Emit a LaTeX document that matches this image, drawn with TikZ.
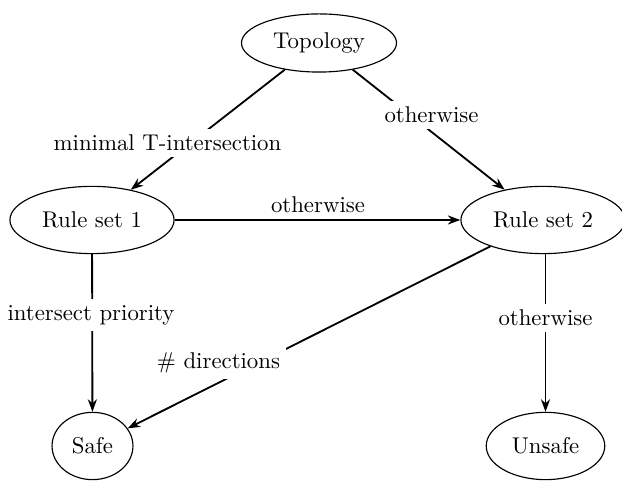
\documentclass[tikz,border=0pt]{standalone}
\usetikzlibrary{arrows.meta,shapes.geometric}
\begin{document}
\begin{tikzpicture}[x=0.4386pt,y=-0.4386pt,
  state/.style={draw, ellipse, inner sep=0pt, line width=0.5pt},
  flow/.style={-{Stealth[length=5.5pt,width=4pt]}, line width=0.8pt},
  lbl/.style={fill=white, inner sep=2.5pt}]
\useasboundingbox (0,0) rectangle (622,482);

% states
\node[state, minimum width=68pt, minimum height=25.5pt] (topo)   at (319,43)   {Topology};
\node[state, minimum width=72pt, minimum height=29.5pt] (rs1)    at (92,220)   {Rule set 1};
\node[state, minimum width=72pt, minimum height=29.5pt] (rs2)    at (543,220)  {Rule set 2};
\node[state, minimum width=35.5pt, minimum height=29.5pt] (safe) at (92.5,446) {Safe};
\node[state, minimum width=52pt, minimum height=29.5pt] (unsafe) at (545.5,446) {Unsafe};

% transitions
\draw[flow] (topo) -- (rs1);
\draw[flow] (topo) -- (rs2);
\draw[flow] (rs1) -- (rs2);
\draw[flow] (rs1) -- (safe);
\draw[flow] (rs2) -- (safe);
\draw[flow] (rs2.south -| unsafe) -- (unsafe);

% transition labels
\node[lbl] (l1) at (167.5,143) {minimal T-intersection};
\node[lbl] (l2) at (431.5,115) {otherwise};
\node[lbl] (l3) at (318,205)   {otherwise};
\node[lbl] (l4) at (91,315)    {intersect priority};
\node[lbl] (l5) at (218.5,363) {\# directions};
\node[lbl] (l6) at (545.5,318) {otherwise};
\end{tikzpicture}
\end{document}
